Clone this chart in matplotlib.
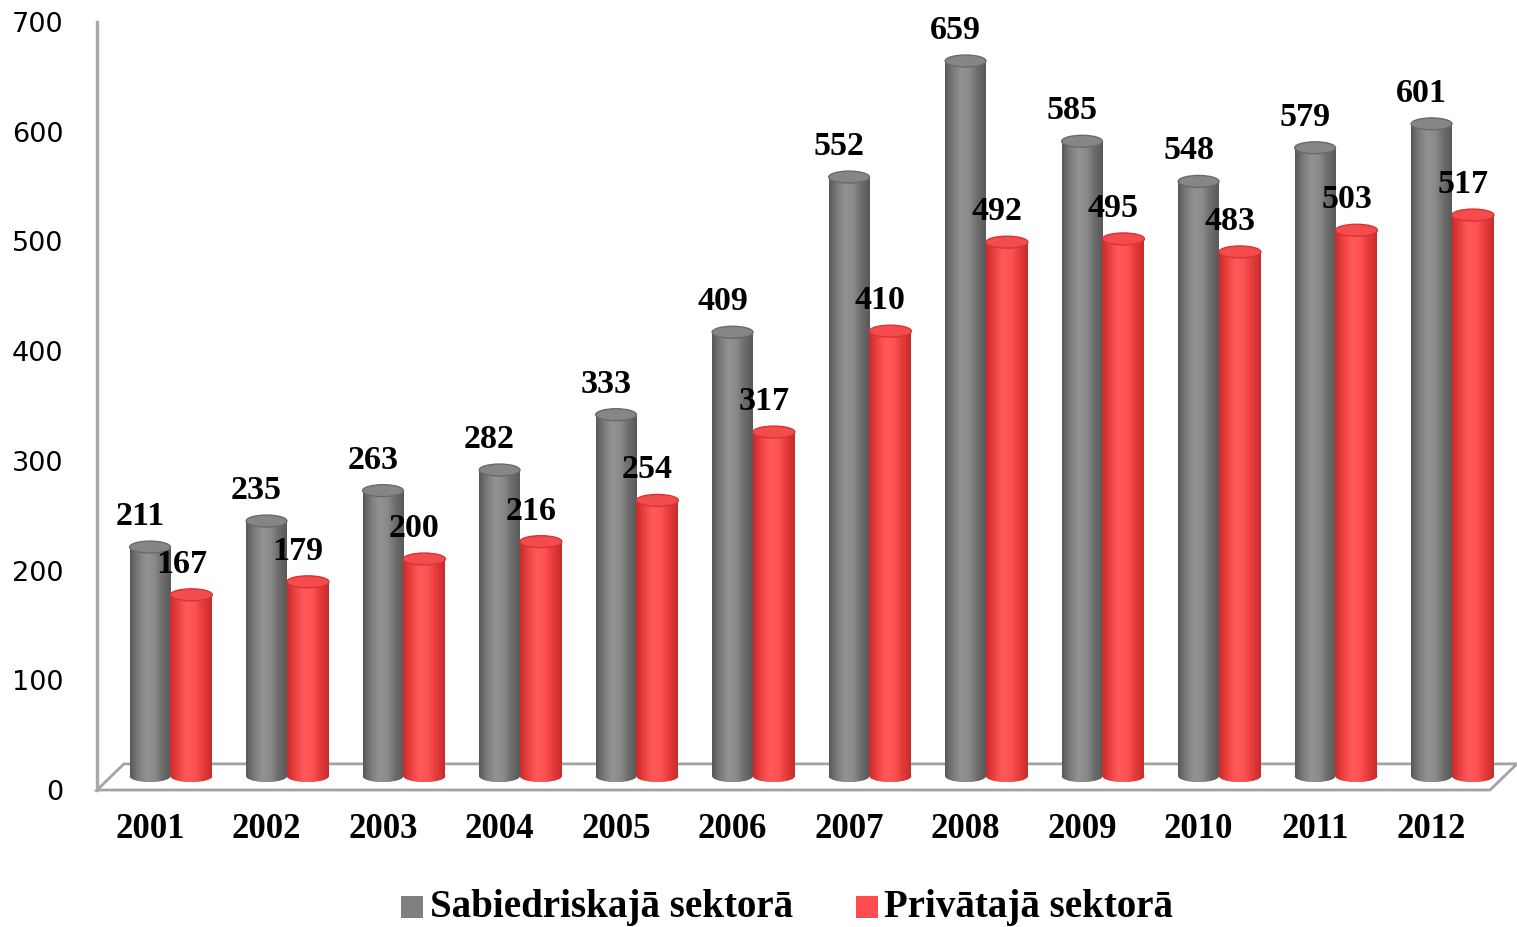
import numpy as np
import matplotlib
matplotlib.use('Agg')
import matplotlib.pyplot as plt
from matplotlib.patches import Ellipse, Polygon, Rectangle
from matplotlib.colors import LinearSegmentedColormap

# ---------------- data ----------------
years = ['2001', '2002', '2003', '2004', '2005', '2006',
         '2007', '2008', '2009', '2010', '2011', '2012']
public = [211, 235, 263, 282, 333, 409, 552, 659, 585, 548, 579, 601]
private = [167, 179, 200, 216, 254, 317, 410, 492, 495, 483, 503, 517]
series_names = ['Sabiedriskajā sektorā', 'Privātajā sektorā']
yticks = [0, 100, 200, 300, 400, 500, 600, 700]

# ---------------- style ----------------
W, H = 1517, 927
SERIF = ['Liberation Serif', 'DejaVu Serif']
gray_cmap = LinearSegmentedColormap.from_list(
    'g', ['#585858', '#7c7c7c', '#939393', '#8a8a8a', '#6c6c6c', '#595959'])
red_cmap = LinearSegmentedColormap.from_list(
    'r', ['#c82c2c', '#ee4242', '#ff5a5a', '#ff5252', '#e43a3a', '#c82c2c'])
styles = [
    dict(cmap=gray_cmap, base='#7f7f7f', top='#868686', topedge='#6a6a6a',
         legend='#808080', off=0.0, width=0.35, z=3),
    dict(cmap=red_cmap, base='#f04444', top='#f44c4c', topedge='#d83434',
         legend='#ff4d4d', off=0.355, width=0.36, z=5),
]

fig = plt.figure(figsize=(W / 100, H / 100), dpi=100)


def fx(px):
    return px / W


def fy(py):
    return 1 - py / H


# ---------- tick / floor axes ----------
ax2 = fig.add_axes([fx(97), fy(790), (1517 - 97) / W, (790 - 22) / H])
ax2.set_xlim(0, 1)
ax2.set_ylim(0, 700)
ax2.set_yticks(yticks)
ax2.set_yticklabels([str(t) for t in yticks])
ax2.tick_params(axis='y', length=0, pad=24, labelsize=19.5, labelcolor='black')
ax2.set_xticks([])
for s in ['top', 'right', 'bottom']:
    ax2.spines[s].set_visible(False)
ax2.spines['left'].set_color('#a8a8a8')
ax2.spines['left'].set_linewidth(2.4)
floor = Polygon([(0, 0), (0.019, 0.034), (1.0, 0.034), (0.981, 0)], closed=True,
                facecolor='white', edgecolor='#a3a3a3', linewidth=2.0,
                transform=ax2.transAxes, clip_on=False, zorder=1)
ax2.add_patch(floor)

# ---------- bar axes ----------
PXU = 1.085          # pixels per data unit
Y0 = 776             # pixel row of value 0
YMIN = -10
bottom_px = Y0 - YMIN * PXU
top_px = Y0 - 700 * PXU
ax = fig.add_axes([fx(97), fy(bottom_px), (1517 - 97) / W, (bottom_px - top_px) / H])
ax.patch.set_alpha(0)
for s in ax.spines.values():
    s.set_visible(False)
xlim = (-0.455, 11.733)
ylim = (YMIN, 700)

x = np.arange(len(years))
grad = np.linspace(0, 1, 64).reshape(1, -1)
eh = 11.0  # ellipse height in data units

for vals, st in zip([public, private], styles):
    bars = ax.bar(x + st['off'], vals, st['width'], color=st['base'],
                  zorder=st['z'], linewidth=0)
    for b in bars:
        x0 = b.get_x()
        w = b.get_width()
        h = b.get_height()
        xc = x0 + w / 2
        im = ax.imshow(grad, extent=(x0, x0 + w, 0, h), aspect='auto',
                       cmap=st['cmap'], zorder=st['z'] + 0.1, interpolation='bilinear')
        im.set_clip_path(b)
        be = Ellipse((xc, 0), w, eh, facecolor=st['base'], linewidth=0,
                     zorder=st['z'] - 0.1)
        ax.add_patch(be)
        im2 = ax.imshow(grad, extent=(x0, x0 + w, -eh / 2, eh / 2), aspect='auto',
                        cmap=st['cmap'], zorder=st['z'], interpolation='bilinear')
        im2.set_clip_path(be)
        te = Ellipse((xc, h), w, eh, facecolor=st['top'], edgecolor=st['topedge'],
                     linewidth=1.0, zorder=st['z'] + 0.2)
        ax.add_patch(te)
        ax.annotate(str(int(h)), (xc, h), xytext=(-10, 22), textcoords='offset pixels',
                    ha='center', va='baseline', fontsize=24.5, fontweight='bold',
                    family=SERIF, color='black', zorder=10)

ax.set_xlim(*xlim)
ax.set_ylim(*ylim)
ax.set_yticks([])
ax.set_xticks(x)
ax.set_xticklabels(years, fontsize=25, fontweight='bold', family=SERIF)
ax.tick_params(axis='x', length=0, pad=19)

# ---------- legend ----------
leg_items = [(401, 430), (856, 884)]
for (sx, tx), name, st in zip(leg_items, series_names, styles):
    fig.patches.append(Rectangle((fx(sx), fy(918)), 22 / W, 22 / H,
                                 transform=fig.transFigure,
                                 facecolor=st['legend'], edgecolor='none'))
    fig.text(fx(tx), fy(907), name, fontsize=28, fontweight='bold', family=SERIF,
             va='center', ha='left')

fig.savefig('out.png', dpi=100)
